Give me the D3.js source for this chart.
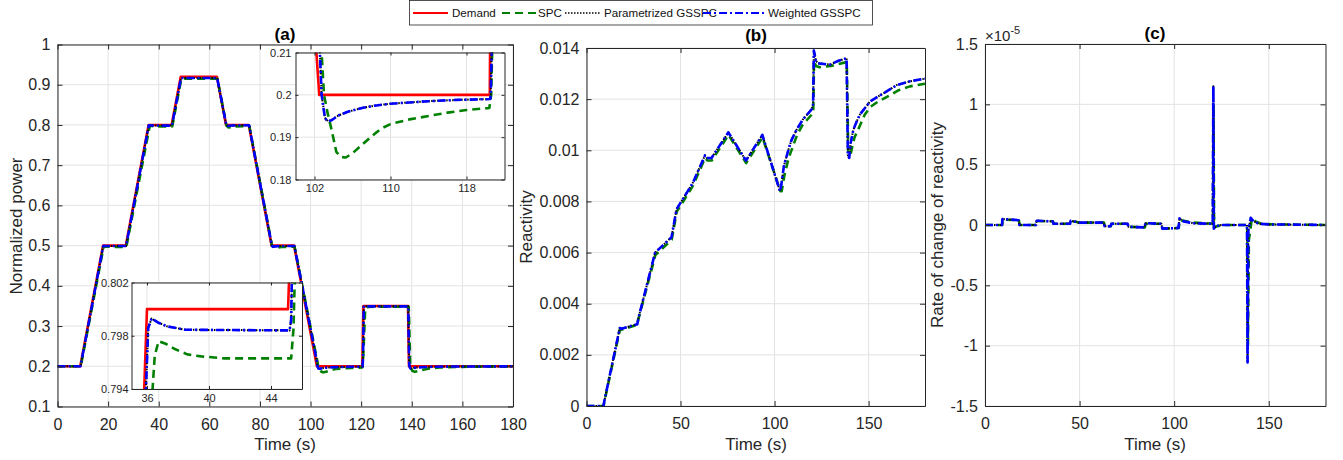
<!doctype html>
<html lang="en">
  <head>
    <meta charset="UTF-8" />
    <title>Power, reactivity and rate of change of reactivity</title>
    <style>
      body { margin: 0; background: #fff; }
      svg { display: block; font-family: Arial, "Liberation Sans", Helvetica, sans-serif; }
    </style>
  </head>
  <body>
    <div id="chart"></div>
    <script src="https://d3js.org/d3.v7.min.js"></script>
    <script>
      // ---- data: [time (s), value] ----
      const demandPower = [[0,0.2],[9,0.2],[18,0.5],[27,0.5],[36,0.8],[45.1,0.8],[48.7,0.92],[63,0.92],[66.6,0.8],[75.6,0.8],[84.6,0.5],[93.5,0.5],[102.5,0.2],[120.45,0.2],[120.9,0.35],[138.5,0.35],[138.9,0.2],[180,0.2]];

      const spcPower = [[0,0.2],[9.2,0.2],[18.2,0.4965],[18.6,0.4978],[20,0.4972],[22,0.4968],[27.2,0.4968],
        [36.33,0.7935],[36.5,0.7965],[36.75,0.7976],[37.2,0.7974],[37.8,0.797],[38.6,0.7966],[39.5,0.79645],[41,0.7963],[45.3,0.7963],[45.45,0.7985],[45.55,0.803],
        [48.9,0.914],[50,0.9148],[63.2,0.9148],[66.8,0.798],[67.6,0.7935],[70,0.7965],[75.8,0.7975],
        [84.8,0.499],[85.8,0.494],[88.5,0.4965],[93.7,0.4972],
        [102.7,0.212],[103,0.2],[103.4,0.1955],[103.8,0.1917],[104.3,0.1865],[104.8,0.1853],[105.3,0.1852],[106,0.1862],[106.8,0.1878],[108,0.1902],[109,0.192],[110,0.1931],[112,0.1942],[114,0.195],[116,0.1958],[118,0.1964],[120.4,0.1969],[120.6,0.2],[120.8,0.22],
        [121.6,0.345],[122.5,0.3475],[126,0.348],[138.8,0.348],
        [139.4,0.2],[140.2,0.189],[141.2,0.1862],[142.5,0.1878],[144.5,0.1915],[147,0.1945],[151,0.197],[158,0.1985],[170,0.1992],[180,0.1995]];

      const paramPower = [[0,0.2],[9.1,0.2],[18.08,0.4989],[18.3,0.4994],[19,0.4991],[20.5,0.4989],[27.1,0.4989],
        [35.9,0.7931],[36.08,0.7986],[36.3,0.7993],[36.7,0.799],[37.3,0.7987],[38.5,0.79845],[45.2,0.7984],[45.3,0.7992],[45.35,0.8025],
        [48.8,0.9165],[49.5,0.9168],[63.1,0.9168],[66.7,0.8],[67.2,0.7976],[69,0.7988],[75.7,0.7992],
        [84.7,0.5],[85.2,0.4976],[87,0.4988],[93.6,0.4992],
        [102.55,0.211],[102.75,0.2],[103.1,0.1946],[103.4,0.1938],[103.8,0.1941],[104.5,0.1951],[105.5,0.196],[107,0.1969],[108.5,0.1975],[110,0.1979],[112,0.1982],[114,0.1985],[117,0.1988],[120.5,0.199],[120.55,0.2],[120.7,0.215],
        [121.05,0.3485],[121.5,0.349],[138.6,0.349],
        [138.95,0.21],[139.1,0.2],[139.4,0.1949],[139.8,0.1946],[140.5,0.1955],[142,0.197],[145,0.1982],[150,0.199],[160,0.1995],[180,0.1998]];

      const weightedPower = [[0,0.2],[9.1,0.2],[18.08,0.4988],[18.3,0.4994],[19,0.4991],[20.5,0.4989],[27.1,0.4989],
        [35.9,0.793],[36.08,0.7986],[36.3,0.7993],[36.7,0.799],[37.3,0.7987],[38.5,0.79845],[45.2,0.7984],[45.3,0.7992],[45.35,0.8025],
        [48.8,0.9165],[49.5,0.9168],[63.1,0.9168],[66.7,0.8],[67.2,0.7975],[69,0.7988],[75.7,0.7992],
        [84.7,0.5],[85.2,0.4975],[87,0.4988],[93.6,0.4992],
        [102.55,0.211],[102.75,0.2],[103.1,0.1945],[103.4,0.1937],[103.8,0.194],[104.5,0.1951],[105.5,0.196],[107,0.1969],[108.5,0.1975],[110,0.1979],[112,0.1982],[114,0.1985],[117,0.1988],[120.5,0.199],[120.55,0.2],[120.7,0.215],
        [121.05,0.3485],[121.5,0.349],[138.6,0.349],
        [138.95,0.21],[139.1,0.2],[139.4,0.1948],[139.8,0.1945],[140.5,0.1955],[142,0.197],[145,0.1982],[150,0.199],[160,0.1995],[180,0.1998]];

      const spcReactivity = [[0,0],[9.1,0],[9.6,0.0002],[17.8,0.003],[18.6,0.00298],[27.1,0.00318],[27.6,0.0034],[35.9,0.0057],[36.6,0.0059],[45.3,0.0065],[48,0.0076],[56.5,0.0086],[63.1,0.0097],[64.2,0.0096],[66.6,0.0096],[75.5,0.0106],[84.9,0.0095],[93.6,0.0105],
        [103.1,0.0084],[103.8,0.0084],[105.2,0.009],[107.5,0.0097],[109.5,0.0101],[112,0.0106],[115,0.011],[119.8,0.0114],[120.6,0.0116],[121,0.0135],[122,0.0133],[124,0.01325],[130,0.0133],[138.4,0.01345],
        [139.2,0.0099],[140.3,0.0098],[141.2,0.0101],[142.5,0.0105],[145,0.0109],[148,0.0114],[151,0.0117],[155,0.0119],[160,0.0121],[166,0.01235],[172,0.0125],[180,0.0126]];

      const paramReactivity = [[0,0],[9,0],[9.5,0.0002],[17.7,0.00305],[18.5,0.00302],[27,0.0032],[27.5,0.0034],[35.8,0.0058],[36.5,0.006],[45.2,0.0066],[47.9,0.0077],[56.4,0.0087],[63,0.0098],[64,0.0097],[66.5,0.0097],[75.4,0.0107],[84.8,0.0096],[93.5,0.0106],
        [102.9,0.0084],[103.5,0.0086],[105,0.0094],[107.3,0.01],[109,0.0104],[111.7,0.0108],[115,0.0112],[119.7,0.0116],[120.5,0.0118],[120.9,0.0139],[122,0.0135],[123.2,0.0134],[129.5,0.01335],[134,0.0135],[138.3,0.0136],
        [139,0.0098],[139.7,0.0097],[140.5,0.0103],[141.9,0.0108],[143.5,0.0111],[145.4,0.0114],[150.7,0.0119],[155,0.0121],[159.6,0.0123],[165,0.01255],[172,0.0127],[180,0.0128]];

      const weightedReactivity = [[0,0],[9,0],[9.5,0.0002],[17.7,0.00305],[18.5,0.00302],[27,0.0032],[27.5,0.0034],[35.8,0.0058],[36.5,0.006],[45.2,0.0066],[47.9,0.0077],[56.4,0.0087],[63,0.0098],[64,0.0097],[66.5,0.0097],[75.4,0.0107],[84.8,0.0096],[93.5,0.0106],
        [102.9,0.0084],[103.5,0.0086],[105,0.0094],[107.3,0.01],[109,0.0104],[111.7,0.0108],[115,0.0112],[119.7,0.0116],[120.5,0.0118],[120.9,0.0139],[122,0.0135],[123.2,0.0134],[129.5,0.01335],[134,0.0135],[138.3,0.0136],
        [139,0.0098],[139.7,0.0097],[140.5,0.0103],[141.9,0.0108],[143.5,0.0111],[145.4,0.0114],[150.7,0.0119],[155,0.0121],[159.6,0.0123],[165,0.01255],[172,0.0127],[180,0.0128]];

      // rate of change of reactivity, in units of 1e-5
      const spcRate = [[0,0],[9.1,0],[9.3,0.045],[17.9,0.04],[18.3,0],[27.1,0],[27.4,0.033],[35.9,0.03],[36.3,0.01],[45.1,0.01],[45.4,0.03],[48.8,0.025],[49.1,0.02],[62.9,0.02],[63.3,-0.012],[66.5,-0.01],[66.9,0.01],[75.5,0.01],[75.9,-0.015],[84.5,-0.02],[84.9,0.01],[93.4,0.01],[93.8,-0.03],[102.4,-0.025],
        [102.9,0.04],[105,0.035],[110,0.02],[120.5,0.01],[120.8,1.0],[121.1,-0.02],[122.5,-0.01],[126,0],[138.6,0],[139,-1.0],[139.5,-0.12],[140.2,-0.05],[141,0.05],[143,0.03],[146,0.01],[152,0.005],[180,0]];

      const paramRate = [[0,0],[9,0],[9.2,0.05],[17.8,0.04],[18.2,0],[27,0],[27.3,0.035],[35.8,0.03],[36.2,0.01],[45,0.01],[45.3,0.035],[48.7,0.025],[49,0.02],[62.8,0.02],[63.2,-0.01],[66.4,-0.01],[66.8,0.01],[75.4,0.01],[75.8,-0.015],[84.4,-0.02],[84.8,0.015],[93.3,0.01],[93.7,-0.03],[102.3,-0.025],
        [102.8,0.055],[105,0.03],[110,0.015],[120.4,0.01],[120.7,1.15],[121,-0.03],[122,-0.01],[125,0],[138.5,0],[138.8,-1.14],[139.2,-0.05],[140.5,0.06],[142,0.03],[145,0.01],[150,0.005],[180,0]];

      const weightedRate = [[0,0],[9,0],[9.2,0.05],[17.8,0.04],[18.2,0],[27,0],[27.3,0.035],[35.8,0.03],[36.2,0.01],[45,0.01],[45.3,0.035],[48.7,0.025],[49,0.02],[62.8,0.02],[63.2,-0.01],[66.4,-0.01],[66.8,0.01],[75.4,0.01],[75.8,-0.015],[84.4,-0.02],[84.8,0.015],[93.3,0.01],[93.7,-0.03],[102.3,-0.025],
        [102.8,0.055],[105,0.03],[110,0.015],[120.4,0.01],[120.7,1.15],[121,-0.03],[122,-0.01],[125,0],[138.5,0],[138.8,-1.14],[139.2,-0.05],[140.5,0.06],[142,0.03],[145,0.01],[150,0.005],[180,0]];

      // tick values
      const powerTicks = [0.1, 0.2, 0.3, 0.4, 0.5, 0.6, 0.7, 0.8, 0.9, 1];
      const timeTicksA = [0, 20, 40, 60, 80, 100, 120, 140, 160, 180];
      const timeTicksBC = [0, 50, 100, 150];
      const reactivityTicks = [0, 0.002, 0.004, 0.006, 0.008, 0.01, 0.012, 0.014];
      const rateTicks = [-1.5, -1, -0.5, 0, 0.5, 1, 1.5];
      const insetTopX = [102, 110, 118];
      const insetTopY = [0.18, 0.19, 0.2, 0.21];
      const insetBotX = [36, 40, 44];
      const insetBotY = [0.794, 0.798, 0.802];

      const legendNames = ['Demand', 'SPC', 'Parametrized GSSPC', 'Weighted GSSPC'];

      // ---- styles ----
      const axisColor = '#262626';
      const gridColor = '#e3e3e3';
      const styles = [
        { color: '#ff0000', width: 2.6, dash: null },
        { color: '#008000', width: 2.6, dash: '8,5' },
        { color: '#000000', width: 2, dash: '1.5,1.5' },
        { color: '#0000ff', width: 2.6, dash: '8,3,2,3' },
      ];

      const svg = d3.select('#chart').append('svg').attr('width', 1343).attr('height', 460);
      svg.append('rect').attr('width', 1343).attr('height', 460).attr('fill', '#fff');

      let clipCount = 0;

      function drawAxes(cfg) {
        const x = d3.scaleLinear().domain(cfg.xDomain).range([cfg.left, cfg.right]);
        const y = d3.scaleLinear().domain(cfg.yDomain).range([cfg.bottom, cfg.top]);
        const g = svg.append('g');

        g.append('rect')
          .attr('x', cfg.left).attr('y', cfg.top)
          .attr('width', cfg.right - cfg.left).attr('height', cfg.bottom - cfg.top)
          .attr('fill', '#fff');

        // grid
        g.append('g').selectAll('line').data(cfg.xTicks).join('line')
          .attr('x1', (d) => x(d)).attr('x2', (d) => x(d))
          .attr('y1', cfg.top).attr('y2', cfg.bottom)
          .attr('stroke', gridColor);
        g.append('g').selectAll('line').data(cfg.yTicks).join('line')
          .attr('y1', (d) => y(d)).attr('y2', (d) => y(d))
          .attr('x1', cfg.left).attr('x2', cfg.right)
          .attr('stroke', gridColor);

        // data lines, clipped to the box
        const clipId = 'clip' + clipCount++;
        g.append('clipPath').attr('id', clipId).append('rect')
          .attr('x', cfg.left).attr('y', cfg.top)
          .attr('width', cfg.right - cfg.left).attr('height', cfg.bottom - cfg.top);
        const plot = g.append('g').attr('clip-path', `url(#${clipId})`);
        const line = d3.line().x((d) => x(d[0])).y((d) => y(d[1]));
        cfg.series.forEach((s, i) => {
          const st = styles[cfg.styleIdx[i]];
          plot.append('path').datum(s)
            .attr('fill', 'none')
            .attr('stroke', st.color)
            .attr('stroke-width', st.width)
            .attr('stroke-dasharray', st.dash)
            .attr('stroke-linejoin', 'round')
            .attr('d', line);
        });

        // axes with inward ticks on all four sides
        const fmt = (d) => String(d);
        const tl = cfg.tickLen;
        const axes = [
          [d3.axisBottom(x).tickValues(cfg.xTicks).tickFormat(fmt).tickPadding(cfg.xPad), `translate(0,${cfg.bottom})`],
          [d3.axisTop(x).tickValues(cfg.xTicks).tickFormat(''), `translate(0,${cfg.top})`],
          [d3.axisLeft(y).tickValues(cfg.yTicks).tickFormat(fmt).tickPadding(cfg.yPad), `translate(${cfg.left},0)`],
          [d3.axisRight(y).tickValues(cfg.yTicks).tickFormat(''), `translate(${cfg.right},0)`],
        ];
        axes.forEach(([ax, tr]) => {
          ax.tickSizeInner(-tl).tickSizeOuter(0);
          const ag = g.append('g').attr('transform', tr).call(ax);
          ag.attr('font-size', cfg.fontSize).attr('font-family', null).attr('color', axisColor);
        });
        return { x, y, g };
      }

      // ---- panel (a) ----
      drawAxes({
        left: 57.5, right: 513, top: 44.5, bottom: 406.5,
        xDomain: [0, 180], yDomain: [0.1, 1],
        xTicks: timeTicksA, yTicks: powerTicks,
        tickLen: 5, fontSize: 16, xPad: 12, yPad: 7,
        series: [demandPower, spcPower, paramPower, weightedPower], styleIdx: [0, 1, 2, 3],
      });
      // inset: 100..122 s
      drawAxes({
        left: 295.5, right: 504.5, top: 52.5, bottom: 179.5,
        xDomain: [100, 122], yDomain: [0.18, 0.21],
        xTicks: insetTopX, yTicks: insetTopY,
        tickLen: 3, fontSize: 11, xPad: 5, yPad: 4,
        series: [demandPower, spcPower, paramPower, weightedPower], styleIdx: [0, 1, 2, 3],
      });
      // inset: 35..46 s
      drawAxes({
        left: 131.5, right: 302, top: 282.5, bottom: 389,
        xDomain: [35, 46], yDomain: [0.794, 0.802],
        xTicks: insetBotX, yTicks: insetBotY,
        tickLen: 3, fontSize: 11, xPad: 5, yPad: 3,
        series: [demandPower, spcPower, paramPower, weightedPower], styleIdx: [0, 1, 2, 3],
      });

      // ---- panel (b) ----
      drawAxes({
        left: 586.5, right: 925, top: 48, bottom: 406,
        xDomain: [0, 180], yDomain: [0, 0.014],
        xTicks: timeTicksBC, yTicks: reactivityTicks,
        tickLen: 5, fontSize: 16, xPad: 12, yPad: 7,
        series: [spcReactivity, paramReactivity, weightedReactivity], styleIdx: [1, 2, 3],
      });

      // ---- panel (c) ----
      drawAxes({
        left: 985, right: 1325.5, top: 44, bottom: 406,
        xDomain: [0, 180], yDomain: [-1.5, 1.5],
        xTicks: timeTicksBC, yTicks: rateTicks,
        tickLen: 5, fontSize: 16, xPad: 12, yPad: 7,
        series: [spcRate, paramRate, weightedRate], styleIdx: [1, 2, 3],
      });

      // exponent label for (c)
      const expo = svg.append('text').attr('x', 985).attr('y', 41).attr('fill', axisColor).attr('font-size', 15);
      expo.append('tspan').text('\u00d710');
      expo.append('tspan').attr('font-size', 11).attr('dy', -7).text('-5');

      // titles and axis labels
      const texts = [
        { t: '(a)', x: 285, y: 40, size: 17, bold: true },
        { t: '(b)', x: 756, y: 41, size: 17, bold: true },
        { t: '(c)', x: 1155, y: 39, size: 17, bold: true },
        { t: 'Time (s)', x: 285, y: 450, size: 17 },
        { t: 'Time (s)', x: 756, y: 450, size: 17 },
        { t: 'Time (s)', x: 1155, y: 450, size: 17 },
      ];
      svg.selectAll('.lbl').data(texts).join('text')
        .attr('class', 'lbl')
        .attr('x', (d) => d.x).attr('y', (d) => d.y)
        .attr('text-anchor', 'middle')
        .attr('font-size', (d) => d.size)
        .attr('font-weight', (d) => (d.bold ? 'bold' : 'normal'))
        .attr('fill', (d) => (d.bold ? '#000' : axisColor))
        .text((d) => d.t);

      const yLabels = [
        { t: 'Normalized power', x: 22, y: 226 },
        { t: 'Reactivity', x: 532, y: 227 },
        { t: 'Rate of change of reactivity', x: 943, y: 225 },
      ];
      svg.selectAll('.ylbl').data(yLabels).join('text')
        .attr('class', 'ylbl')
        .attr('transform', (d) => `translate(${d.x},${d.y}) rotate(-90)`)
        .attr('text-anchor', 'middle')
        .attr('font-size', 17)
        .attr('fill', axisColor)
        .text((d) => d.t);

      // ---- legend ----
      const legend = svg.append('g');
      legend.append('rect')
        .attr('x', 409.5).attr('y', 0.5).attr('width', 463).attr('height', 24.5)
        .attr('fill', '#fff').attr('stroke', axisColor).attr('stroke-width', 0.8);
      const legendPos = [
        { x1: 413, x2: 448, tx: 452 },
        { x1: 502, x2: 536, tx: 538 },
        { x1: 565, x2: 600, tx: 604 },
        { x1: 703, x2: 765, tx: 768 },
      ];
      legendNames.forEach((name, i) => {
        const st = styles[i];
        const p = legendPos[i];
        legend.append('line')
          .attr('x1', p.x1).attr('x2', p.x2).attr('y1', 13).attr('y2', 13)
          .attr('stroke', st.color).attr('stroke-width', i === 2 ? 1.6 : 2.2)
          .attr('stroke-dasharray', st.dash);
        legend.append('text')
          .attr('x', p.tx).attr('y', 17.2)
          .attr('font-size', 11.6).attr('fill', '#111')
          .text(name);
      });
    </script>
  </body>
</html>
